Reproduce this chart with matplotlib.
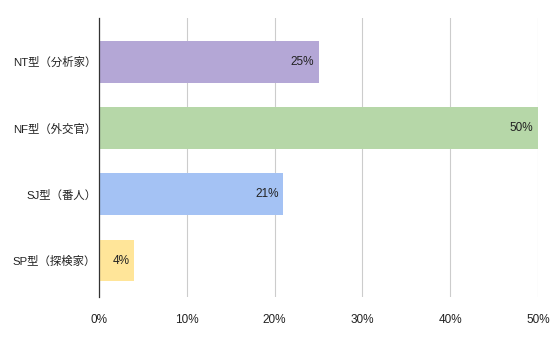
import matplotlib.pyplot as plt

plt.rcParams['font.family'] = ['Liberation Sans', 'Noto Sans CJK JP']

categories = ['NT型（分析家）', 'NF型（外交官）', 'SJ型（番人）', 'SP型（探検家）']
values = [25, 50, 21, 4]
colors = ['#b4a7d6', '#b6d7a8', '#a4c2f4', '#ffe599']
xticks = [0, 10, 20, 30, 40, 50]

fig = plt.figure(figsize=(5.56, 3.43), dpi=100)
ax = fig.add_axes([99 / 556, 1 - 297 / 343, 439 / 556, 279 / 343])

pos = list(range(len(categories)))
ax.barh(pos, values, height=0.63, color=colors, zorder=2)
for p, v in zip(pos, values):
    ax.annotate(f'{v}%', (v, p), xytext=(-3.5, 0), textcoords='offset points',
                ha='right', va='center', fontsize=8.5, color='#222222', zorder=3)

ax.set_xlim(0, 50)
ax.set_ylim(3.55, -0.66)
ax.set_yticks(pos)
ax.set_yticklabels(categories, fontsize=8.2, color='#222222')
ax.set_xticks(xticks)
ax.set_xticklabels([f'{t}%' for t in xticks], fontsize=8.5, color='#222222')
ax.tick_params(axis='y', length=0, pad=2)
ax.tick_params(axis='x', length=0, pad=12)
ax.grid(axis='x', color='#cccccc', linewidth=0.8, zorder=1)
for s in ['top', 'right', 'bottom']:
    ax.spines[s].set_visible(False)
ax.spines['left'].set_color('#333333')
ax.spines['left'].set_linewidth(0.9)
ax.spines['left'].set_zorder(4)

fig.savefig('out.png', dpi=100)
